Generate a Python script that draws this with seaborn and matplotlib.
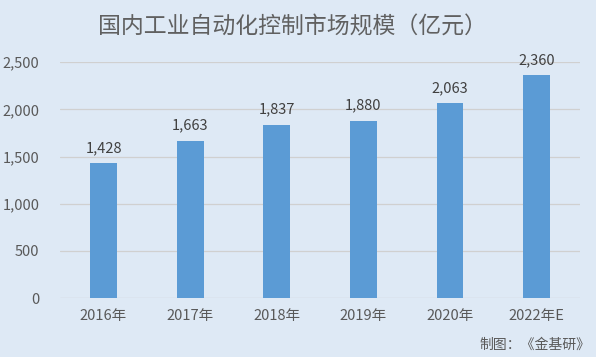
import matplotlib
matplotlib.use("Agg")
import matplotlib.pyplot as plt
import seaborn as sns
import pandas as pd

categories = ["2016年", "2017年", "2018年", "2019年", "2020年", "2022年E"]
values = [1428, 1663, 1837, 1880, 2063, 2360]
yticks = [0, 500, 1000, 1500, 2000, 2500]

sns.set_theme(style="white")
plt.rcParams['font.family'] = ['Noto Sans CJK SC', 'DejaVu Sans']

BG = "#DEE9F5"
BAR = "#5B9BD5"
TXT = "#595959"

df = pd.DataFrame({"year": categories, "value": values})

fig = plt.figure(figsize=(5.96, 3.57), dpi=100, facecolor=BG)
ax = fig.add_axes([0.101, 0.165, 0.872, 0.661])
ax.set_facecolor(BG)

sns.barplot(data=df, x="year", y="value", color=BAR, width=0.31, saturation=1,
            linewidth=0, edgecolor=BAR, ax=ax, zorder=3)

ax.set_ylim(0, 2500)
ax.set_xlim(-0.5, len(categories) - 0.5)
ax.set_yticks(yticks)
ax.set_yticklabels([f"{v:,}" for v in yticks], fontsize=10.5, color=TXT)
ax.set_xticks(range(len(categories)))
ax.set_xticklabels(categories, fontsize=10.5, color=TXT)
ax.tick_params(axis='y', length=0, pad=15)
ax.tick_params(axis='x', length=0, pad=8)
ax.set_xlabel("")
ax.set_ylabel("")
for s in ax.spines.values():
    s.set_visible(False)
for v in yticks:
    ax.axhline(v, color="#D0D0D0" if v else "#C8C8C8", lw=0.9, zorder=1)

for i, v in enumerate(values):
    ax.annotate(f"{v:,}", (i, v), xytext=(0, 6), textcoords="offset points",
                ha="center", va="bottom", fontsize=10.5, color="#404040")

fig.text(0.49, 0.925, "国内工业自动化控制市场规模（亿元）", ha="center", va="center",
         fontsize=16.5, color="#606060")
fig.text(0.99, 0.035, "制图：《金基研》", ha="right", va="center", fontsize=10, color=TXT)

fig.savefig("out.png", dpi=100, facecolor=BG)
